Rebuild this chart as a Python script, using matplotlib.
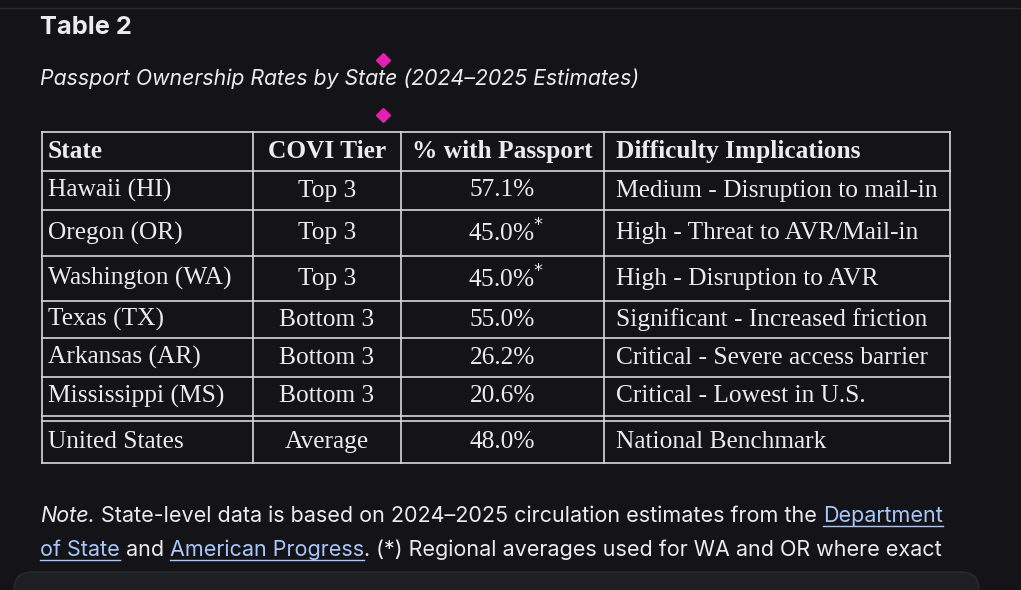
import matplotlib.pyplot as plt
from matplotlib.patches import FancyBboxPatch

states = ['Hawaii (HI)', 'Oregon (OR)', 'Washington (WA)', 'Texas (TX)',
          'Arkansas (AR)', 'Mississippi (MS)', 'United States']
tiers = ['Top 3', 'Top 3', 'Top 3', 'Bottom 3', 'Bottom 3', 'Bottom 3', 'Average']
pct = [57.1, 45.0, 45.0, 55.0, 26.2, 20.6, 48.0]
starred = [False, True, True, False, False, False, False]
implications = ['Medium - Disruption to mail-in', 'High - Threat to AVR/Mail-in',
                'High - Disruption to AVR', 'Significant - Increased friction',
                'Critical - Severe access barrier', 'Critical - Lowest in U.S.',
                'National Benchmark']
headers = ['State', 'COVI Tier', '% with Passport', 'Difficulty Implications']

BG = '#131318'
FG = '#ececf0'
LINK = '#a8c7fa'
TS = 18.3  # table font size

fig = plt.figure(figsize=(10.21, 5.9), dpi=100, facecolor=BG)
ax = fig.add_axes([0, 0, 1, 1])
ax.set_xlim(0, 1021)
ax.set_ylim(590, 0)
ax.axis('off')

ax.axhline(8, color='#2a2b30', lw=1)
ax.text(40, 27, 'Table 2', color=FG, fontsize=18.3, fontweight='bold',
        family='Inter', va='center')
ax.text(40, 79, 'Passport Ownership Rates by State (2024\u20132025 Estimates)',
        color=FG, fontsize=15.3, style='italic', family='Inter', va='center')
ax.plot([383, 383], [60, 115], 'D', color='#e020b0', ms=7, ls='none')

# table grid
cols = [42, 253, 401, 604, 950]
rows = [132, 171, 210, 256, 301, 338, 377, 416, 421, 463]
lc = '#d8d8dc'
for y in rows:
    ax.plot([cols[0], cols[-1]], [y, y], color=lc, lw=1.2)
for x in cols:
    ax.plot([x, x], [rows[0], rows[-1]], color=lc, lw=1.2)

serif = 'Liberation Serif'
centers = [(rows[i] + rows[i + 1]) / 2 for i in range(7)]
centers.append((rows[8] + rows[9]) / 2)

hy = centers[0]
ax.text(cols[0] + 6, hy, headers[0], color=FG, fontsize=TS, family=serif,
        fontweight='bold', va='center')
ax.text((cols[1] + cols[2]) / 2, hy, headers[1], color=FG, fontsize=TS,
        family=serif, fontweight='bold', va='center', ha='center')
ax.text((cols[2] + cols[3]) / 2, hy, headers[2], color=FG, fontsize=TS,
        family=serif, fontweight='bold', va='center', ha='center')
ax.text(cols[3] + 12, hy, headers[3], color=FG, fontsize=TS, family=serif,
        fontweight='bold', va='center')

for i in range(7):
    y = centers[i + 1]
    ax.text(cols[0] + 6, y, states[i], color=FG, fontsize=TS, family=serif, va='center')
    ax.text((cols[1] + cols[2]) / 2, y, tiers[i], color=FG, fontsize=TS,
            family=serif, va='center', ha='center')
    label = f'{pct[i]:.1f}%' + (r'$^{*}$' if starred[i] else '')
    ax.text((cols[2] + cols[3]) / 2 + (4 if starred[i] else 0), y, label,
            color=FG, fontsize=TS, family=serif, va='center', ha='center')
    ax.text(cols[3] + 12, y, implications[i], color=FG, fontsize=TS,
            family=serif, va='center')

# note with links
fig.canvas.draw()
r = fig.canvas.get_renderer()
inv = ax.transData.inverted()

def run(x, y, pieces):
    for txt, kw in pieces:
        t = ax.text(x, y, txt, color=kw.get('c', FG), fontsize=15.5, family='Inter',
                    style=kw.get('style', 'normal'), va='baseline')
        bb = t.get_window_extent(r)
        x1 = inv.transform((bb.x1, bb.y0))[0]
        if kw.get('u'):
            ax.plot([x, x1], [y + 4, y + 4], color=LINK, lw=1)
        x = x1

run(40, 522, [('Note.', {'style': 'italic'}),
              (' State-level data is based on 2024\u20132025 circulation estimates from the ', {}),
              ('Department', {'c': LINK, 'u': True})])
run(40, 556, [('of State', {'c': LINK, 'u': True}), (' and ', {}),
              ('American Progress', {'c': LINK, 'u': True}),
              ('. (*) Regional averages used for WA and OR where exact', {})])

ax.add_patch(FancyBboxPatch((14, 572), 965, 40, boxstyle='round,pad=0,rounding_size=18',
                            fc='#1e1f24', ec='#2a2b30', lw=1))

fig.savefig('out.png', dpi=100, facecolor=BG)
